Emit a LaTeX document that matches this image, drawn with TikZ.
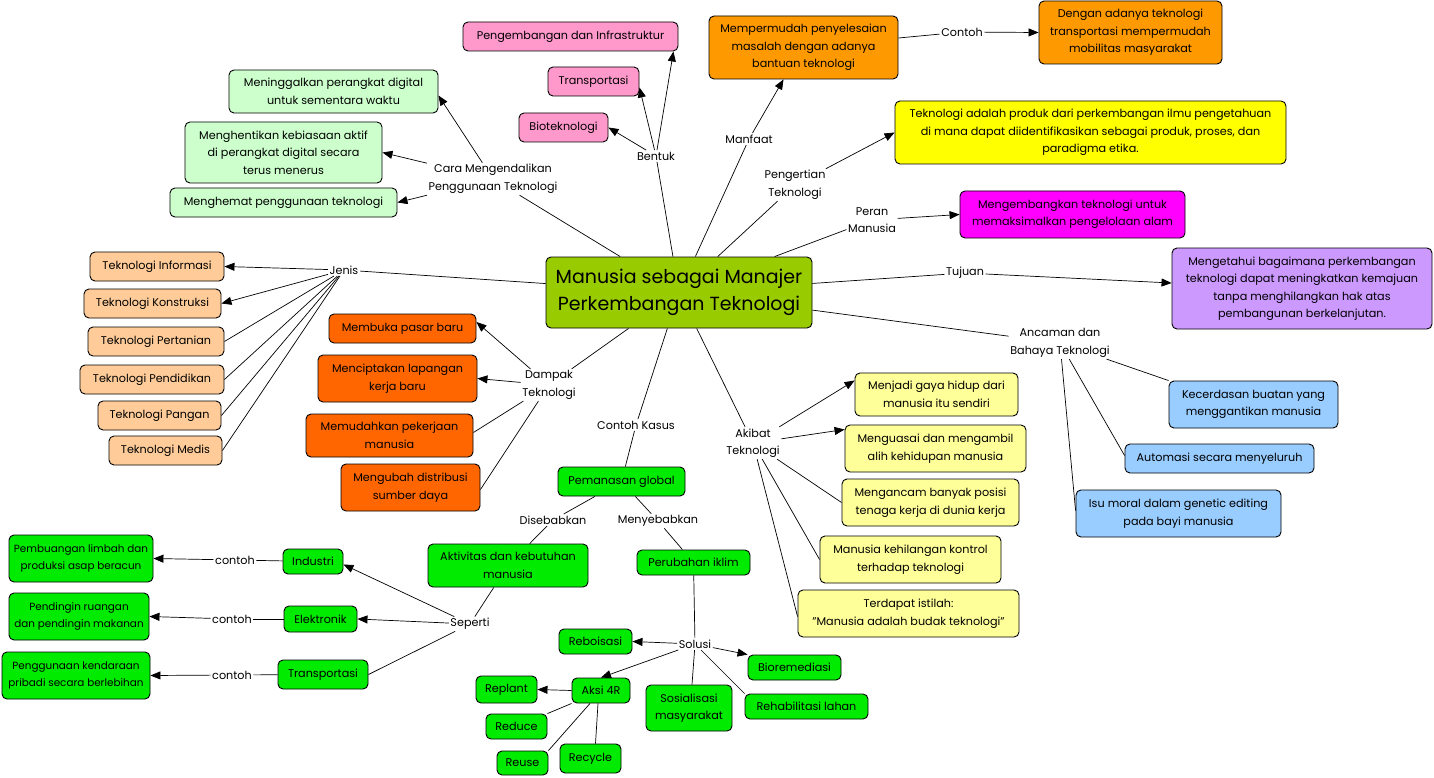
\documentclass[tikz,border=0pt]{standalone}
\usepackage{fontspec}
\setmainfont{Poppins}
\usetikzlibrary{arrows.meta}
\definecolor{cCenter}{RGB}{153,204,0}
\definecolor{cPink}{RGB}{255,153,204}
\definecolor{cOrange}{RGB}{255,153,0}
\definecolor{cYellow}{RGB}{255,255,0}
\definecolor{cMag}{RGB}{255,0,255}
\definecolor{cPurple}{RGB}{204,153,255}
\definecolor{cBlue}{RGB}{153,204,255}
\definecolor{cLGreen}{RGB}{204,255,204}
\definecolor{cPeach}{RGB}{255,204,153}
\definecolor{cRed}{RGB}{255,102,0}
\definecolor{cGreen}{RGB}{0,235,0}
\definecolor{cLYellow}{RGB}{255,255,153}
\tikzset{
  box/.style={draw=black,line width=0.9pt,rounded corners=5pt,align=center,inner sep=0.5pt,
    font=\fontsize{11.2}{17.5}\selectfont},
  smallbox/.style={font=\fontsize{10.4}{17.5}\selectfont},
  lbl/.style={align=center,inner sep=1.5pt,font=\fontsize{11.2}{17.5}\selectfont},
  conn/.style={line width=0.7pt},
  arr/.style={line width=0.7pt,-{Triangle[length=10pt,width=8pt]}}
}
\newcommand\bx[6]{\node[box,fill=#2,minimum width=#4pt,minimum height=#5pt] (#1) at (#3) {#6};}
\newcommand\sbx[6]{\node[box,smallbox,fill=#2,minimum width=#4pt,minimum height=#5pt] (#1) at (#3) {#6};}
\begin{document}
\begin{tikzpicture}[x=1pt,y=-1pt]
\useasboundingbox (0,0) rectangle (1434,778);
\fill[white] (0,0) rectangle (1434,778);

% center
\node[box,fill=cCenter,minimum width=266pt,minimum height=71pt,font=\fontsize{19}{27}\selectfont] (ctr) at (679,292.5) {Manusia sebagai Manajer\\Perkembangan Teknologi};

% Bentuk
\bx{peng}{cPink}{570.5,36.5}{215}{29}{Pengembangan dan Infrastruktur}
\bx{transp}{cPink}{593.5,81.5}{91}{29}{Transportasi}
\bx{biotek}{cPink}{563.5,127.5}{89}{29}{Bioteknologi}
\node[lbl] (bentuk) at (656,156) {Bentuk};
\draw[conn] (ctr) -- (bentuk);
\draw[arr] (bentuk) -- ([xshift=-5pt]peng.south east);
\draw[arr] (bentuk) -- ([yshift=-6pt]transp.east);
\draw[arr] (bentuk) -- (biotek.east);

% Manfaat
\bx{manf}{cOrange}{803.5,47.5}{189}{63}{Mempermudah penyelesaian\\masalah dengan adanya\\bantuan teknologi}
\bx{contohbox}{cOrange}{1130.5,32.5}{183}{63}{Dengan adanya teknologi\\transportasi mempermudah\\mobilitas masyarakat}
\node[lbl] (manfaat) at (749,139) {Manfaat};
\draw[conn] (ctr) -- (manfaat);
\draw[arr] (manfaat) -- ([xshift=-20pt]manf.south);
\node[lbl] (contoh) at (962,32) {Contoh};
\draw[conn] ([yshift=9.5pt]manf.east) -- (contoh);
\draw[arr] (contoh) -- (contohbox.west);

% Pengertian
\bx{pengbox}{cYellow}{1090.5,132.5}{391}{63}{Teknologi adalah produk dari perkembangan ilmu pengetahuan\\di mana dapat diidentifikasikan sebagai produk, proses, dan\\paradigma etika.}
\node[lbl] (pengertian) at (795,185) {Pengertian\\Teknologi};
\draw[conn] (ctr) -- (pengertian);
\draw[arr] (pengertian) -- (pengbox.west);

% Peran
\bx{mag}{cMag}{1072.5,214.5}{225}{47}{Mengembangkan teknologi untuk\\memaksimalkan pengelolaan alam}
\node[lbl] (peran) at (872,220) {Peran\\Manusia};
\draw[conn] (ctr) -- (peran);
\draw[arr] (peran) -- (mag.west);

% Tujuan
\bx{purp}{cPurple}{1302,288.5}{260}{81}{Mengetahui bagaimana perkembangan\\teknologi dapat meningkatkan kemajuan\\tanpa menghilangkan hak atas\\pembangunan berkelanjutan.}
\node[lbl] (tujuan) at (965,273) {Tujuan};
\draw[conn] (ctr) -- (tujuan);
\draw[arr] (tujuan) -- ([yshift=5.5pt]purp.west);

% Ancaman
\node[lbl] (ancaman) at (1060,343) {Ancaman dan\\Bahaya Teknologi};
\bx{kec}{cBlue}{1253.5,404.5}{169}{47}{Kecerdasan buatan yang\\menggantikan manusia}
\bx{auto}{cBlue}{1219.5,458.5}{189}{29}{Automasi secara menyeluruh}
\bx{isu}{cBlue}{1178.5,513.5}{205}{47}{Isu moral dalam genetic editing\\pada bayi manusia}
\draw[conn] (ctr) -- (ancaman);
\draw[conn] (ancaman) -- (kec.north west);
\draw[conn] (ancaman) -- ([yshift=3pt]auto.west);
\draw[conn] (ancaman) -- ([yshift=3pt]isu.west);

% Cara Mengendalikan
\node[lbl] (cara) at (493,179) {Cara Mengendalikan\\Penggunaan Teknologi};
\bx{m1}{cLGreen}{333.5,91.5}{209}{43}{Meninggalkan perangkat digital\\untuk sementara waktu}
\bx{m2}{cLGreen}{283.5,152.5}{197}{61}{Menghentikan kebiasaan aktif\\di perangkat digital secara\\terus menerus}
\bx{m3}{cLGreen}{283.5,202.5}{227}{29}{Menghemat penggunaan teknologi}
\draw[conn] (ctr) -- (cara);
\draw[arr] (cara) -- ([yshift=-4pt]m1.east);
\draw[arr] (cara) -- (m2.east);
\draw[arr] (cara) -- (m3.east);

% Jenis
\node[lbl] (jenis) at (344,270) {Jenis};
\bx{ti}{cPeach}{157,266.5}{134}{29}{Teknologi Informasi}
\bx{tk}{cPeach}{152.5,303.5}{137}{29}{Teknologi Konstruksi}
\bx{tp}{cPeach}{156,341.5}{136}{29}{Teknologi Pertanian}
\bx{tpd}{cPeach}{152,379.5}{144}{29}{Teknologi Pendidikan}
\bx{tpg}{cPeach}{159.5,415.5}{123}{29}{Teknologi Pangan}
\bx{tm}{cPeach}{165.5,450.5}{113}{29}{Teknologi Medis}
\draw[conn] (ctr) -- (jenis);
\draw[arr] (jenis) -- (ti.east);
\draw[arr] (jenis) -- (tk.east);
\draw[conn] (jenis) -- (tp.east);
\draw[conn] (jenis) -- (tpd.east);
\draw[conn] (jenis) -- (tpg.east);
\draw[conn] (jenis) -- (tm.east);

% Dampak
\node[lbl] (dampak) at (549,385) {Dampak\\Teknologi};
\bx{d1}{cRed}{402.5,328.5}{147}{29}{Membuka pasar baru}
\bx{d2}{cRed}{397.5,378.5}{159}{47}{Menciptakan lapangan\\kerja baru}
\bx{d3}{cRed}{389.5,435.5}{167}{43}{Memudahkan pekerjaan\\manusia}
\bx{d4}{cRed}{410.5,487.5}{139}{47}{Mengubah distribusi\\sumber daya}
\draw[conn] (ctr) -- (dampak);
\draw[arr] (dampak) -- ([yshift=6.5pt]d1.east);
\draw[arr] (dampak) -- (d2.east);
\draw[conn] (dampak) -- ([yshift=3pt]d3.east);
\draw[conn] (dampak) -- ([yshift=-2pt]d4.east);

% Contoh Kasus
\node[lbl] (ck) at (636,425) {Contoh Kasus};
\bx{pg}{cGreen}{621.5,481.5}{127}{29}{Pemanasan global}
\draw[conn] (ctr) -- (ck);
\draw[conn] (ck) -- (pg);
\node[lbl] (diseb) at (553,520) {Disebabkan};
\node[lbl] (menyeb) at (658,521) {Menyebabkan};
\bx{akt}{cGreen}{508,565.5}{160}{43}{Aktivitas dan kebutuhan\\manusia}
\bx{perub}{cGreen}{693.5,562.5}{113}{25}{Perubahan iklim}
\draw[conn] (pg) -- (diseb);
\draw[conn] (diseb) -- (akt);
\draw[conn] (pg) -- (menyeb);
\draw[conn] (menyeb) -- (perub);

% Seperti
\node[lbl] (seperti) at (470,624) {Seperti};
\bx{ind}{cGreen}{313,561.5}{60}{25}{Industri}
\bx{elek}{cGreen}{320.5,619}{73}{26}{Elektronik}
\bx{tr}{cGreen}{323,674.5}{90}{29}{Transportasi}
\draw[conn] (akt) -- (seperti);
\draw[arr] (seperti) -- ([yshift=-3pt]ind.east);
\draw[arr] (seperti) -- (elek.east);
\draw[conn] (seperti) -- (tr.east);
\node[lbl] (c1) at (235,560) {contoh};
\node[lbl] (c2) at (232,619) {contoh};
\node[lbl] (c3) at (232,675) {contoh};
\sbx{pemb}{cGreen}{81,558.5}{144}{47}{Pembuangan limbah dan\\produksi asap beracun}
\sbx{pend}{cGreen}{79,616.5}{140}{47}{Pendingin ruangan\\dan pendingin makanan}
\sbx{pengg}{cGreen}{76,675.5}{148}{47}{Penggunaan kendaraan\\pribadi secara berlebihan}
\draw[conn] (ind) -- (c1);
\draw[arr] (c1) -- (pemb.east);
\draw[conn] (elek) -- (c2);
\draw[arr] (c2) -- (pend.east);
\draw[conn] (tr) -- (c3);
\draw[arr] (c3) -- (pengg.east);

% Solusi
\node[lbl] (solusi) at (695,644) {Solusi};
\bx{rebo}{cGreen}{595.5,641.5}{73}{25}{Reboisasi}
\bx{bio}{cGreen}{794.5,667.5}{93}{25}{Bioremediasi}
\bx{aksi}{cGreen}{601,690.5}{58}{25}{Aksi 4R}
\bx{sos}{cGreen}{689,708}{86}{46}{Sosialisasi\\masyarakat}
\bx{rehab}{cGreen}{806.5,706.5}{123}{25}{Rehabilitasi lahan}
\draw[conn] (perub) -- (solusi);
\draw[arr] (solusi) -- (rebo.east);
\draw[arr] (solusi) -- (bio.north west);
\draw[arr] (solusi) -- (aksi.north);
\draw[conn] (solusi) -- ([xshift=3pt]sos.north);
\draw[conn] (solusi) -- (rehab.north west);
\bx{replant}{cGreen}{506.5,689.5}{61}{27}{Replant}
\bx{reduce}{cGreen}{516.5,726.5}{61}{25}{Reduce}
\bx{reuse}{cGreen}{522.5,763}{51}{24}{Reuse}
\bx{recycle}{cGreen}{590.5,758.5}{61}{29}{Recycle}
\draw[arr] (aksi.west) -- (replant.east);
\draw[conn] (aksi.south west) -- (reduce.north east);
\draw[conn] ([xshift=-11pt]aksi.south) -- (reuse.north east);
\draw[conn] ([xshift=-3pt]aksi.south) -- ([xshift=5pt]recycle.north);

% Akibat
\node[lbl] (akibat) at (753,443) {Akibat\\Teknologi};
\bx{a1}{cLYellow}{936.5,394.5}{163}{43}{Menjadi gaya hidup dari\\manusia itu sendiri}
\bx{a2}{cLYellow}{935.5,448.5}{181}{47}{Menguasai dan mengambil\\alih kehidupan manusia}
\bx{a3}{cLYellow}{930.5,502.5}{177}{47}{Mengancam banyak posisi\\tenaga kerja di dunia kerja}
\bx{a4}{cLYellow}{910.5,559.5}{181}{47}{Manusia kehilangan kontrol\\terhadap teknologi}
\bx{a5}{cLYellow}{908.5,613.5}{221}{47}{Terdapat istilah:\\"Manusia adalah budak teknologi"}
\draw[conn] (ctr) -- (akibat);
\draw[arr] (akibat) -- ([yshift=14pt]a1.west);
\draw[arr] (akibat) -- ([yshift=19pt]a2.west);
\draw[conn] (akibat) -- (a3.west);
\draw[conn] (akibat) -- (a4.west);
\draw[conn] (akibat) -- ([yshift=-3pt]a5.west);
\end{tikzpicture}
\end{document}
